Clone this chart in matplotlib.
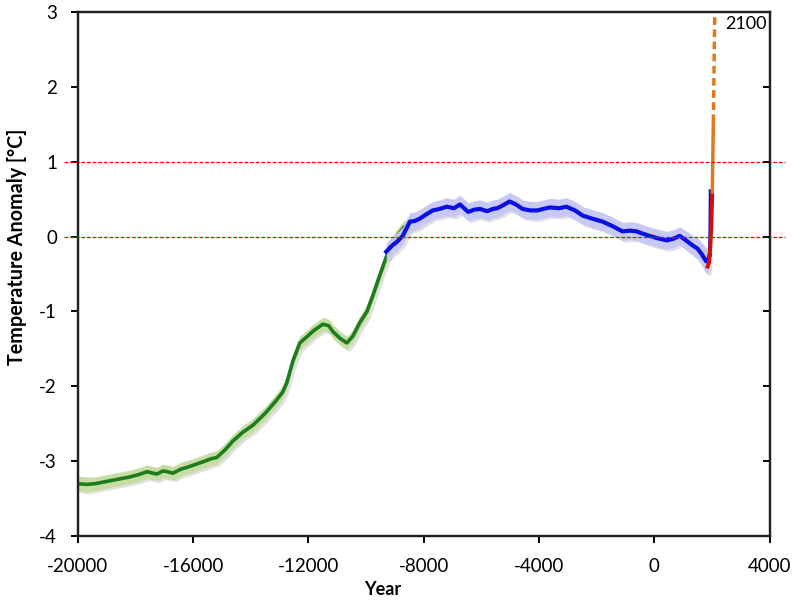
import numpy as np
import matplotlib.pyplot as plt

plt.rcParams['font.family'] = ['Lato', 'DejaVu Sans']

# Shakun et al. style deglacial record (green)
green_years = [-20000, -19700, -19400, -19000, -18600, -18200, -17900, -17600, -17400,
               -17250, -17050, -16900, -16700, -16450, -16200, -15900, -15600, -15400,
               -15180, -14900, -14620, -14300, -13930, -13500, -13100, -12900, -12750,
               -12540, -12300, -12060, -11800, -11500, -11300, -11150, -10900, -10670,
               -10460, -10220, -9970, -9770, -9600, -9420, -9250, -9000, -8700, -8300]
green_vals = [-3.30, -3.31, -3.30, -3.27, -3.24, -3.21, -3.18, -3.14, -3.16,
              -3.17, -3.13, -3.14, -3.16, -3.11, -3.08, -3.04, -3.00, -2.97,
              -2.95, -2.85, -2.73, -2.62, -2.52, -2.36, -2.18, -2.08, -1.95,
              -1.66, -1.42, -1.34, -1.25, -1.17, -1.19, -1.27, -1.36, -1.42,
              -1.33, -1.15, -1.00, -0.79, -0.60, -0.40, -0.22, -0.03, 0.12, 0.22]
green_err = [0.10, 0.10, 0.09, 0.09, 0.09, 0.09, 0.09, 0.09, 0.09,
             0.09, 0.09, 0.09, 0.09, 0.09, 0.09, 0.09, 0.09, 0.09,
             0.09, 0.09, 0.09, 0.09, 0.09, 0.09, 0.09, 0.09, 0.09,
             0.09, 0.09, 0.09, 0.09, 0.09, 0.09, 0.09, 0.09, 0.09,
             0.09, 0.09, 0.09, 0.09, 0.09, 0.09, 0.09, 0.09, 0.09, 0.09]

# Marcott et al. style Holocene record (blue)
blue_years = [-9300, -9100, -8930, -8730, -8480, -8300, -8140, -7900, -7690, -7450,
              -7200, -6950, -6740, -6600, -6460, -6250, -6050, -5800, -5600, -5450,
              -5290, -5020, -4800, -4570, -4300, -4060, -3850, -3630, -3300, -3050,
              -2750, -2480, -2150, -1790, -1450, -1100, -850, -620, -400, -170,
              100, 430, 650, 880, 1100, 1340, 1500, 1640, 1800, 1880, 1920]
blue_vals = [-0.20, -0.12, -0.07, 0.01, 0.20, 0.21, 0.24, 0.30, 0.35, 0.37,
             0.40, 0.38, 0.43, 0.38, 0.33, 0.36, 0.37, 0.34, 0.37, 0.38,
             0.41, 0.47, 0.43, 0.37, 0.35, 0.35, 0.37, 0.39, 0.38, 0.40,
             0.35, 0.28, 0.24, 0.20, 0.14, 0.07, 0.08, 0.07, 0.04, 0.01,
             -0.02, -0.05, -0.03, 0.01, -0.05, -0.12, -0.16, -0.23, -0.33, -0.30, -0.25]
blue_err = [0.12, 0.12, 0.12, 0.12, 0.12, 0.12, 0.12, 0.12, 0.12, 0.12,
            0.12, 0.12, 0.12, 0.12, 0.12, 0.12, 0.12, 0.12, 0.12, 0.12,
            0.12, 0.12, 0.12, 0.12, 0.12, 0.12, 0.12, 0.12, 0.12, 0.12,
            0.12, 0.12, 0.12, 0.12, 0.12, 0.12, 0.12, 0.12, 0.12, 0.12,
            0.12, 0.12, 0.12, 0.12, 0.13, 0.13, 0.14, 0.15, 0.17, 0.18, 0.18]

# uptick at the end of the blue record
spike_years = [1920, 1940, 1950]
spike_vals = [-0.25, 0.10, 0.61]

# instrumental record (red)
inst_years = [1850, 1900, 1950, 1980, 2010]
inst_vals = [-0.40, -0.35, -0.10, 0.15, 0.55]

# projection to 2100 (orange)
proj_years = [2010, 2050]
proj_vals = [0.55, 1.53]
proj_dash_years = [2050, 2100]
proj_dash_vals = [1.53, 3.05]

xticks = [-20000, -16000, -12000, -8000, -4000, 0, 4000]
yticks = [-4, -3, -2, -1, 0, 1, 2, 3]

fig = plt.figure(figsize=(7.95, 6.03), dpi=100)
ax = fig.add_axes([0.098, 0.111, 0.870, 0.869])

gy = np.array(green_years)
gv = np.array(green_vals)
ge = np.array(green_err)
by = np.array(blue_years)
bv = np.array(blue_vals)
be = np.array(blue_err)

# faint grey shadow under the bands
ax.fill_between(gy + 80, gv - ge - 0.025, gv + ge - 0.025, color='#bdbdbd', lw=0, alpha=0.45, zorder=1)
ax.fill_between(gy, gv - ge, gv + ge, color='#c6dea4', lw=0, zorder=2)
ax.plot(gy, gv, color='#1e7b1e', lw=2.6, zorder=3)

ax.fill_between(by + 80, bv - be - 0.025, bv + be - 0.025, color='#bdbdbd', lw=0, alpha=0.45, zorder=4)
ax.fill_between(by, bv - be, bv + be, color='#c8c8f4', lw=0, zorder=5)
ax.plot(by, bv, color='#0a10e0', lw=3.0, zorder=6)
ax.plot(spike_years, spike_vals, color='#0a10e0', lw=2.5, zorder=6)

ax.plot(proj_years, proj_vals, color='#e07820', lw=2.5, zorder=7, solid_capstyle='butt')
ax.plot(proj_dash_years, proj_dash_vals, color='#e07820', lw=2.5, zorder=7,
        dashes=(2.2, 1.3))
ax.plot(inst_years, inst_vals, color='#d01010', lw=2.8, zorder=8)

# reference lines at 0 and 1 degree
for yv in [0, 1]:
    ax.axhline(yv, xmin=-0.02, xmax=1.022, color='#ff0000', lw=0.9,
               dashes=(3, 1.5), clip_on=False, zorder=9)

ax.text(2450, 2.84, '2100', fontsize=13, ha='left', va='center')

ax.set_xlim(-20000, 4000)
ax.set_ylim(-4, 3)
ax.set_xticks(xticks)
ax.set_yticks(yticks)
ax.set_xticklabels([str(t) for t in xticks])
ax.set_yticklabels([str(t) for t in yticks])
ax.tick_params(axis='both', labelsize=13.5, length=5, width=1.4, direction='out')
ax.tick_params(axis='x', pad=11)
ax.tick_params(axis='y', pad=10)

# inward ticks on the right spine
ax2 = ax.twinx()
ax2.set_ylim(-4, 3)
ax2.set_yticks(yticks)
ax2.tick_params(axis='y', direction='in', length=5, width=1.4, labelright=False)

for a in [ax, ax2]:
    for side in ['left', 'bottom', 'right', 'top']:
        a.spines[side].set_linewidth(1.6)
        a.spines[side].set_color('#222222')

ax.set_xlabel('Year', fontsize=13, fontweight='bold')
ax.set_ylabel('Temperature Anomaly [°C]', fontsize=14.2, fontweight='bold')
ax.xaxis.set_label_coords(0.44, -0.086)
ax.yaxis.set_label_coords(-0.073, 0.552)

plt.savefig('out.png', dpi=100)
